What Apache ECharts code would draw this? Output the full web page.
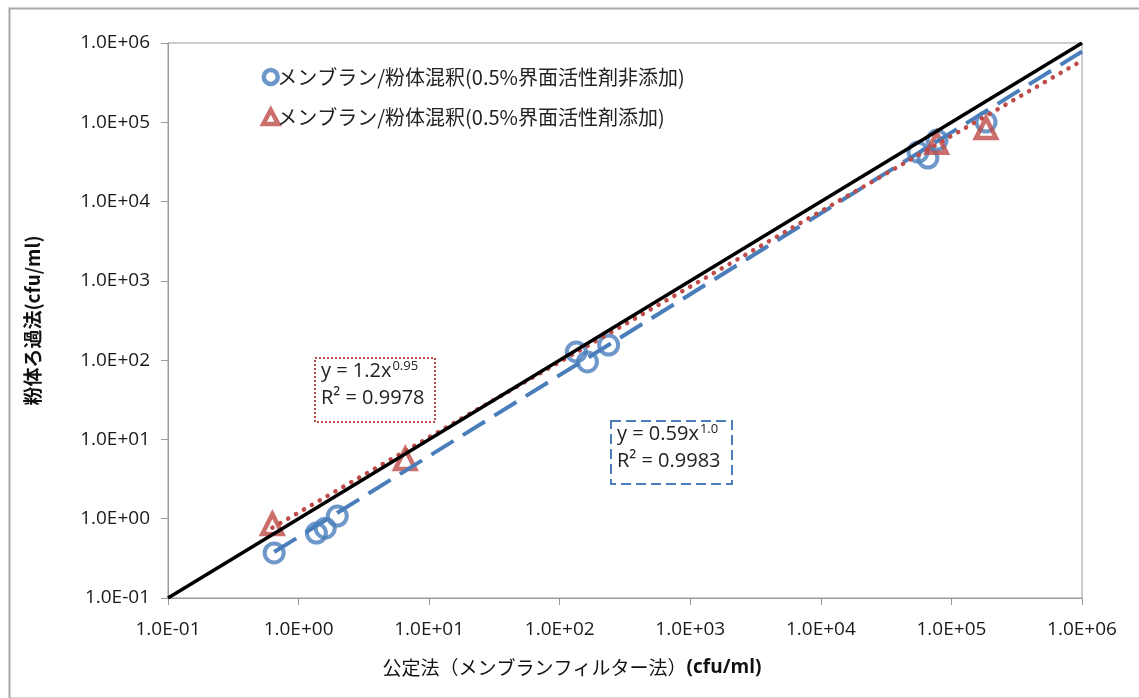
<!DOCTYPE html>
<html><head><meta charset="utf-8">
<script src="https://cdn.jsdelivr.net/npm/echarts@6/dist/echarts.min.js"></script>
<style>html,body{margin:0;padding:0;background:#fff}#c{width:1139px;height:698px}</style>
</head><body><div id="c"></div>
<script>
// Data (x: 公定法, y: 粉体ろ過法), cfu/ml
const seriesNames = ['メンブラン/粉体混釈(0.5%界面活性剤非添加)', 'メンブラン/粉体混釈(0.5%界面活性剤添加)'];
const blueX = [0.65, 1.37, 1.6, 1.98, 134, 163, 237, 55500, 66000, 77600, 184000];
const blueY = [0.37, 0.66, 0.76, 1.08, 127, 95, 155, 42100, 35400, 59700, 100700];
const redX = [0.63, 6.56, 77000, 184000];
const redY = [0.86, 5.66, 55000, 84500];
// Trend line endpoints (power fits are straight on log-log axes)
const blueTrendX = [0.65, 1000000];
const blueTrendY = [0.38, 780000];
const redTrendX = [0.63, 1000000];
const redTrendY = [0.77, 600000];
const oneToOneX = [0.1, 1000000];
const oneToOneY = [0.1, 1000000];
const xTitle = '公定法（メンブランフィルター法）';
const xTitleUnit = '(cfu/ml)';
const yTitle = '粉体ろ過法(cfu/ml)';
const redEq = ['y = 1.2x', '0.95', 'R² = 0.9978'];
const blueEq = ['y = 0.59x', '1.0', 'R² = 0.9983'];

const zip = (a, b) => a.map((v, i) => [v, b[i]]);
const fmt = v => {
  const e = Math.round(Math.log10(v));
  const s = e < 0 ? '-' : '+';
  const a = Math.abs(e);
  return '1.0E' + s + (a < 10 ? '0' : '') + a;
};
const BLUE = '#4A7EBB', RED = '#BE4B48';
const FONT = '"Open Sans", "Noto Sans CJK JP", sans-serif';
const JP = '"Noto Sans CJK JP", sans-serif';
const EQSIZE = 20;
const mctx = document.createElement('canvas').getContext('2d');
const measure = (t, size) => { mctx.font = size + 'px "Open Sans"'; return mctx.measureText(t).width; };

function eqBox(lines, x, y, w, h, color, dash) {
  const tx = x + 7, ty = y + 4;
  return [
    {type: 'rect', left: x, top: y, shape: {width: w, height: h}, style: {fill: '#fff', stroke: color, lineWidth: 2, lineDash: dash}, z: 50},
    {type: 'text', left: tx, top: ty, z: 51, style: {text: lines[0], font: EQSIZE + 'px "Open Sans"', fill: '#222'}},
    {type: 'text', left: tx + measure(lines[0], EQSIZE) + 1, top: ty - 1, z: 51, style: {text: lines[1], font: '13px "Open Sans"', fill: '#222'}},
    {type: 'text', left: tx, top: ty + 27, z: 51, style: {text: lines[2], font: EQSIZE + 'px "Open Sans"', fill: '#222'}}
  ];
}

const chart = echarts.init(document.getElementById('c'), null, {renderer: 'canvas'});
const axisCommon = {
  type: 'log', logBase: 10, min: 0.1, max: 1000000,
  axisLine: {show: true, lineStyle: {color: '#9a9a9a', width: 1}},
  axisTick: {show: true, length: 7, lineStyle: {color: '#9a9a9a'}},
  minorTick: {show: false},
  splitLine: {show: false},
  axisLabel: {formatter: fmt, color: '#1a1a1a', fontSize: 19, fontFamily: FONT}
};
chart.setOption({
  animation: false,
  backgroundColor: '#fff',
  grid: {left: 168, right: 57, top: 43, bottom: 100, show: true, borderColor: '#9a9a9a', borderWidth: 1, containLabel: false},
  xAxis: Object.assign({}, axisCommon, {
    axisLabel: Object.assign({}, axisCommon.axisLabel, {margin: 22}),
    name: '{a|' + xTitle + '}{b|' + xTitleUnit + '}', nameLocation: 'middle', nameGap: 60,
    nameTextStyle: {padding: [0, 106, 0, 0], rich: {
      a: {fontSize: 19, fontFamily: JP, color: '#111'},
      b: {fontSize: 19, fontWeight: 'bold', fontFamily: FONT, color: '#111'}
    }}
  }),
  yAxis: Object.assign({}, axisCommon, {
    axisLabel: Object.assign({}, axisCommon.axisLabel, {margin: 18}),
    name: yTitle, nameLocation: 'middle', nameGap: 126, nameRotate: 90,
    nameTextStyle: {fontSize: 19, fontWeight: 'bold', fontFamily: JP, color: '#111'}
  }),
  legend: {
    data: [
      {name: seriesNames[0], itemStyle: {borderWidth: 4.5, color: 'rgba(255,255,255,0)', borderColor: BLUE}},
      {name: seriesNames[1], itemStyle: {borderWidth: 4.5, color: 'rgba(255,255,255,0)', borderColor: RED}}
    ],
    orient: 'vertical', left: 256, top: 62, itemGap: 20,
    itemWidth: 15, itemHeight: 14,
    textStyle: {fontSize: 20, fontFamily: JP, color: '#222', padding: [0, 0, 0, -6]}
  },
  graphic: [
    {type: 'rect', left: 7, top: 6, shape: {width: 1140, height: 690}, style: {fill: 'none', stroke: '#a8a8a8', lineWidth: 2}, silent: true, z: -1}
  ].concat(eqBox(redEq, 314, 357, 120, 64, RED, [2, 2]), eqBox(blueEq, 610, 420, 121, 63, BLUE, [10, 5])),
  series: [
    {name: seriesNames[0], type: 'scatter', data: zip(blueX, blueY), symbol: 'circle', symbolSize: 19,
     itemStyle: {color: 'rgba(255,255,255,0)', borderColor: BLUE, borderWidth: 4}, z: 3},
    {name: seriesNames[1], type: 'scatter', data: zip(redX, redY), symbol: 'triangle', symbolSize: 20,
     itemStyle: {color: 'rgba(255,255,255,0)', borderColor: RED, borderWidth: 4.5}, z: 3},
    {name: 'blueTrend', type: 'line', data: zip(blueTrendX, blueTrendY), showSymbol: false, symbol: 'none',
     lineStyle: {color: BLUE, width: 4, type: [26, 11]}, z: 4},
    {name: 'redTrend', type: 'line', data: zip(redTrendX, redTrendY), showSymbol: false, symbol: 'none',
     lineStyle: {color: RED, width: 4.5, type: [0.1, 9], cap: 'round'}, z: 4},
    {name: 'oneToOne', type: 'line', data: zip(oneToOneX, oneToOneY), showSymbol: false, symbol: 'none',
     lineStyle: {color: '#000', width: 3.5}, z: 5}
  ]
});
</script></body></html>
